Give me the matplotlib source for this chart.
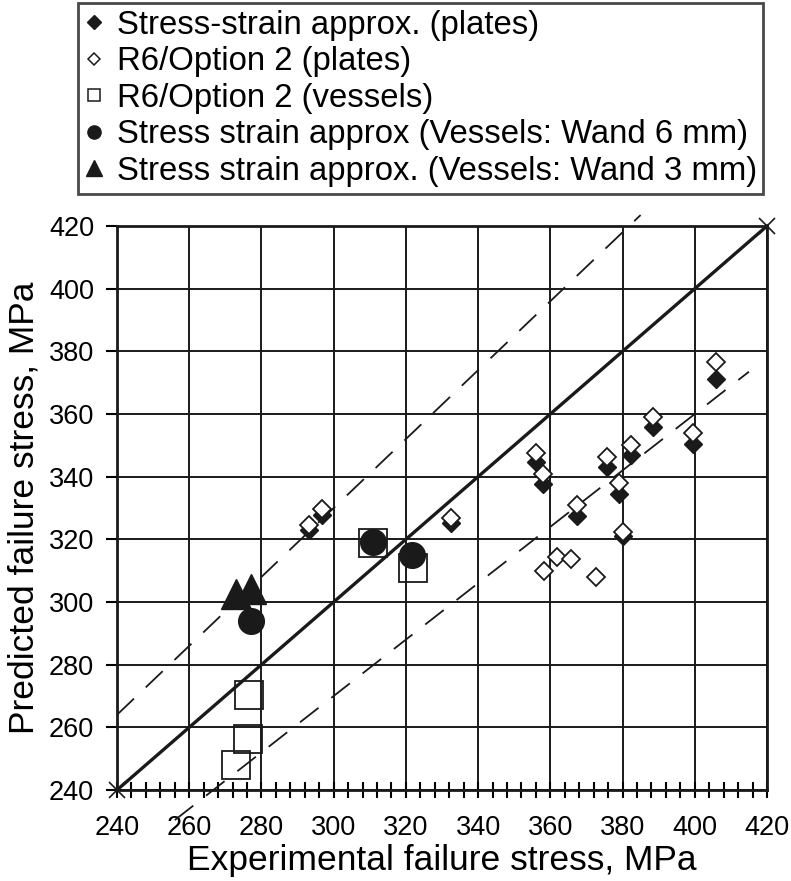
import matplotlib
matplotlib.use("Agg")
import matplotlib.pyplot as plt
from matplotlib.lines import Line2D
from matplotlib.ticker import MultipleLocator

plt.rcParams['font.family'] = ['Liberation Sans', 'DejaVu Sans']

# ---- data ----
ss_plates_x = [293.3, 296.9, 332.4, 356.0, 358.0, 367.3, 375.6, 379.0, 380.0, 382.4, 388.3, 399.6, 405.9]
ss_plates_y = [323.0, 327.8, 325.1, 344.6, 337.7, 327.5, 343.0, 334.5, 321.0, 346.9, 355.7, 350.4, 371.3]

r6_plates_x = [293.3, 296.9, 332.4, 356.0, 358.0, 367.3, 375.6, 379.0, 380.0, 382.4, 388.3, 399.6, 405.9,
               358.2, 361.8, 365.6, 372.6]
r6_plates_y = [324.6, 329.6, 326.7, 347.7, 340.9, 331.0, 346.4, 337.9, 322.4, 350.0, 358.9, 353.8, 376.7,
               310.0, 314.5, 313.8, 308.1]

r6_vessels_x = [276.6, 276.4, 272.9, 311.0, 322.0]
r6_vessels_y = [270.3, 256.3, 248.0, 318.7, 310.8]

ss_v6_x = [277.0, 311.0, 321.8]
ss_v6_y = [294.0, 319.3, 315.0]

ss_v3_x = [273.0, 277.0]
ss_v3_y = [302.5, 304.0]

# reference lines: perfect agreement and +/-10 % bands
diag_x = [240, 420]
upper_factor = 1.1
upper_x = [240, 385]
lower_factor = 0.9
lower_x = [256, 415]

labels = ["Stress-strain approx. (plates)",
          "R6/Option 2 (plates)",
          "R6/Option 2 (vessels)",
          "Stress strain approx (Vessels: Wand 6 mm)",
          "Stress strain approx. (Vessels: Wand 3 mm)"]

ticks = list(range(240, 421, 20))

# ---- figure ----
fig = plt.figure(figsize=(7.91, 8.81), dpi=100)
ax = fig.add_axes([117/791, 1-790/881, 650/791, 564/881])

ax.set_xlim(240, 420)
ax.set_ylim(240, 420)
ax.set_xticks(ticks)
ax.set_yticks(ticks)
ax.xaxis.set_minor_locator(MultipleLocator(4))
ax.grid(True, color='#1a1a1a', lw=1.4, zorder=0)
ax.set_axisbelow(True)

for s in ax.spines.values():
    s.set_linewidth(2.0)
    s.set_color('#1a1a1a')

ax.tick_params(axis='x', which='both', direction='inout', length=11, width=1.5,
               labelsize=19.5, pad=12.5)
ax.tick_params(axis='y', which='major', direction='out', length=8, width=1.5,
               labelsize=19.5, pad=8.5)

# lines
ax.plot(diag_x, diag_x, color='#1a1a1a', lw=2.4, zorder=2, clip_on=False)
ax.plot(diag_x, diag_x, ls='none', marker='x', ms=11, mew=1.2, color='#1a1a1a',
        clip_on=False, zorder=2)
ax.plot(upper_x, [upper_factor*v for v in upper_x], color='#1a1a1a', lw=1.3,
        dashes=(13, 9), clip_on=False, zorder=2)
ax.plot(lower_x, [lower_factor*v for v in lower_x], color='#1a1a1a', lw=1.3,
        dashes=(13, 9), clip_on=False, zorder=2)

# points
ax.plot(ss_plates_x, ss_plates_y, ls='none', marker='D', ms=9, color='#1a1a1a',
        mec='#1a1a1a', zorder=3)
ax.plot(r6_plates_x, r6_plates_y, ls='none', marker='D', ms=9, mfc='white',
        mec='#1a1a1a', mew=1.3, zorder=4)
ax.plot(r6_vessels_x, r6_vessels_y, ls='none', marker='s', ms=20, mfc='none',
        mec='#1a1a1a', mew=1.3, zorder=3)
ax.plot(ss_v6_x, ss_v6_y, ls='none', marker='o', ms=18.5, color='#1a1a1a', zorder=4)
ax.plot(ss_v3_x, ss_v3_y, ls='none', marker='^', ms=22, color='#1a1a1a', zorder=4)

ax.set_xlabel("Experimental failure stress, MPa", fontsize=25.5, labelpad=2)
ax.set_ylabel("Predicted failure stress, MPa", fontsize=25.5, labelpad=6)

# legend
handles = [
    Line2D([], [], ls='none', marker='D', ms=6.8, color='#1a1a1a'),
    Line2D([], [], ls='none', marker='D', ms=6.5, mfc='white', mec='#1a1a1a', mew=1.1),
    Line2D([], [], ls='none', marker='s', ms=9, mfc='white', mec='#1a1a1a', mew=1.1),
    Line2D([], [], ls='none', marker='o', ms=9.5, color='#1a1a1a'),
    Line2D([], [], ls='none', marker='^', ms=11, color='#1a1a1a'),
]
leg = fig.legend(handles, labels, loc='upper left', bbox_to_anchor=(78/791, 1-3/881),
                 fontsize=23.7, frameon=True, fancybox=False, handlelength=0.57,
                 handletextpad=0.4, borderpad=0.2, labelspacing=0.17,
                 borderaxespad=0)
leg.get_frame().set_edgecolor('#1a1a1a')
leg.get_frame().set_linewidth(2.0)

fig.savefig("out.png", dpi=100)
